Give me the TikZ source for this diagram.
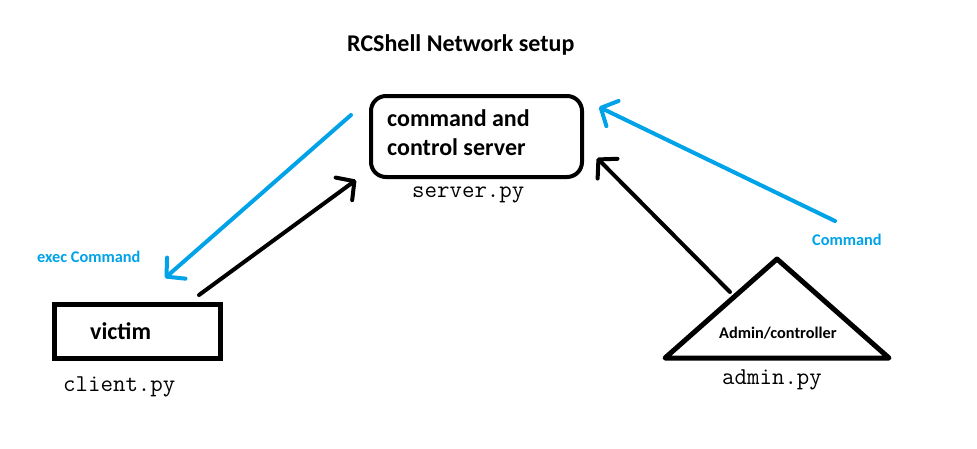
\documentclass[tikz,border=0pt]{standalone}
\usepackage{fontspec}
\setmainfont{Carlito}
\usetikzlibrary{arrows.meta}
\definecolor{paintblue}{HTML}{00A2E8}
\tikzset{
  biglbl/.style={font=\bfseries\fontsize{24}{29}\selectfont, inner sep=0pt, anchor=base west},
  codelbl/.style={font=\ttfamily\fontsize{24.2}{26}\selectfont, inner sep=0pt, anchor=base west},
  smalllbl/.style={font=\bfseries\fontsize{16.3}{18}\selectfont, inner sep=0pt, anchor=base west},
  penline/.style={line width=4pt, line cap=round, line join=round},
  barbtip/.style={-{Straight Barb[length=13pt 0 0,width=28pt 0 0,line cap=round,line join=round]}},
}
\begin{document}
\begin{tikzpicture}[x=1pt,y=-1pt]
\useasboundingbox (0,0) rectangle (977,448);
\fill[white] (0,0) rectangle (977,448);

% title
\node[biglbl] (title) at (347,51) {RCShell Network setup};

% server
\node[draw, line width=4pt, rounded corners=15pt, minimum width=211pt, minimum height=81pt, inner sep=0pt] (server) at (476.5,136.5) {};
\node[biglbl] (srvtxt1) at (387,126) {command and};
\node[biglbl] (srvtxt2) at (387,155) {control server};
\node[codelbl] (serverpy) at (412,197) {server.py};

% victim
\node[draw, line width=5pt, minimum width=166pt, minimum height=54pt, inner sep=0pt] (victim) at (137.5,331.5) {};
\node[biglbl] (victimtxt) at (90,339) {victim};
\node[codelbl] (clientpy) at (63,391) {client.py};

% admin triangle
\coordinate (apex) at (777,259);
\coordinate (bl) at (665,358);
\coordinate (br) at (889,358);
\draw[line width=5pt, line join=round, line cap=round] (bl) -- (apex) -- (br) -- cycle;
\node[smalllbl] (admintxt) at (719,338) {Admin/controller};
\node[codelbl] (adminpy) at (722,384) {admin.py};

% labels
\node[smalllbl, text=paintblue] (execlbl) at (37,262) {exec Command};
\node[smalllbl, text=paintblue] (cmdlbl) at (812,245) {Command};

% arrow end points
\coordinate (b1s) at (351,115);
\coordinate (b1e) at (165,278);
\coordinate (k1s) at (199,295);
\coordinate (k1e) at (356,180);
\coordinate (b2s) at (835,221);
\coordinate (b2e) at (599,107);
\coordinate (k2s) at (730,292);
\coordinate (k2e) at (597,158);

\draw[penline, barbtip, paintblue] (b1s) -- (b1e);
\draw[penline, barbtip] (k1s) -- (k1e);
\draw[penline, barbtip, paintblue] (b2s) -- (b2e);
\draw[penline, barbtip] (k2s) -- (k2e);
\end{tikzpicture}
\end{document}
